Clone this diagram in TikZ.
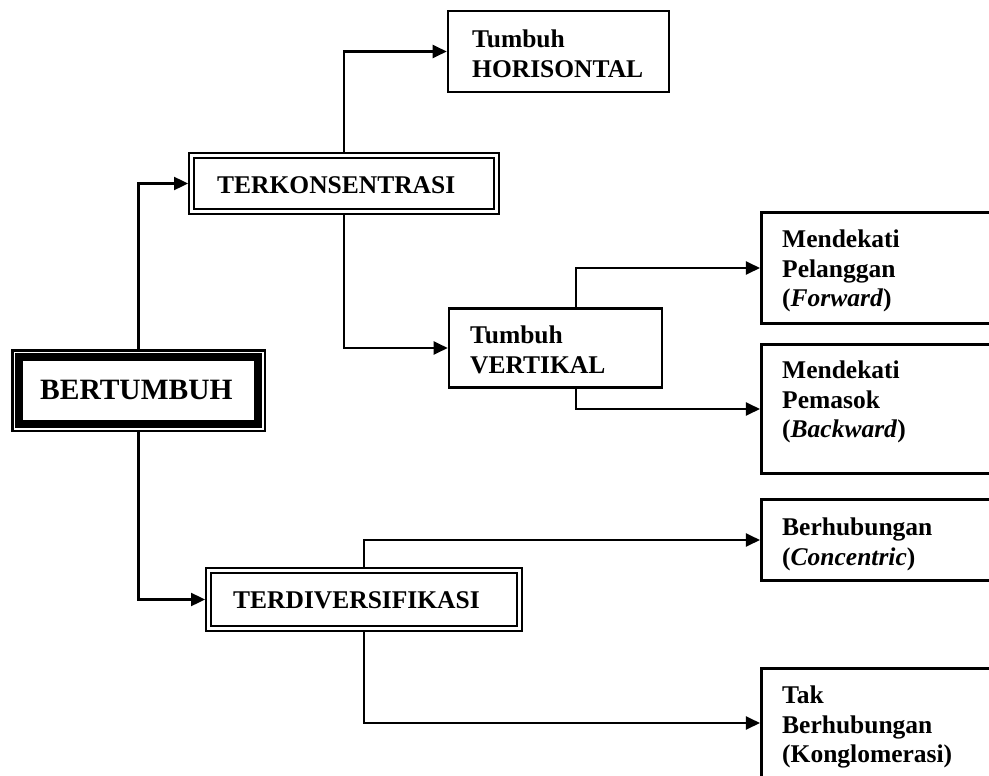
\documentclass[tikz,border=0pt]{standalone}
\usepackage{fontspec}
\setmainfont{Liberation Serif}
\usetikzlibrary{arrows.meta,calc}
\begin{document}
\begin{tikzpicture}[x=1pt,y=-1pt,
  box/.style={draw,line width=2.6pt,rectangle,inner sep=0pt},
  dbox/.style={draw,rectangle,line width=2pt,double,double distance=3pt,inner sep=0pt,outer sep=3.5pt},
  lbl/.style={inner sep=0pt,align=left,font=\fontsize{25.5}{29.5}\selectfont\bfseries},
  conn/.style={line width=2.4pt,-{Triangle[length=14pt,width=13pt]}}]
\clip (0,0) rectangle (989,776);
\fill[white] (0,0) rectangle (989,776);
% main box
\node[draw,line width=2.5pt,inner sep=0pt,minimum width=252.5pt,minimum height=80.5pt] (bert) at (138.5,390.5) {};
\draw[line width=7.5pt] ($(bert.north west)+(7.8,7.8)$) rectangle ($(bert.south east)+(-7.8,-7.8)$);
\node[lbl,anchor=base west,font=\fontsize{29.5}{34}\selectfont\bfseries] (bertT) at (40,399) {BERTUMBUH};
% double boxes
\node[dbox,minimum width=305pt,minimum height=56pt] (tk) at (344,183.5) {};
\node[lbl,anchor=base west] (tkT) at (217,193) {TERKONSENTRASI};
\node[dbox,minimum width=311pt,minimum height=58pt] (td) at (364,599.5) {};
\node[lbl,anchor=base west] (tdT) at (233,608) {TERDIVERSIFIKASI};
% plain boxes
\node[box,minimum width=221pt,minimum height=81pt] (hor) at (558.5,51.5) {};
\node[lbl,anchor=north west] (horT) at (472,29.7) {Tumbuh\\HORISONTAL};
\node[box,minimum width=213pt,minimum height=79.5pt] (ver) at (555.5,348) {};
\node[lbl,anchor=north west] (verT) at (470,325.7) {Tumbuh\\VERTIKAL};
\node[box,minimum width=238.7pt,minimum height=111.4pt] (pel) at (880.6,268) {};
\node[lbl,anchor=north west] (pelT) at (782,229.7) {Mendekati\\Pelanggan\\(\textit{Forward})};
\node[box,minimum width=238.7pt,minimum height=129.4pt] (pem) at (880.6,409) {};
\node[lbl,anchor=north west] (pemT) at (782,360.7) {Mendekati\\Pemasok\\(\textit{Backward})};
\node[box,minimum width=238.7pt,minimum height=81.4pt] (ber) at (880.6,540) {};
\node[lbl,anchor=north west] (berT) at (782,517.7) {Berhubungan\\(\textit{Concentric})};
\node[box,minimum width=238.7pt,minimum height=109.4pt] (tak) at (880.6,723) {};
\node[lbl,anchor=north west] (takT) at (782,685.7) {Tak\\Berhubungan\\(Konglomerasi)};
% connectors
\draw[conn] (bert.north) |- (tk.west);
\draw[conn] (bert.south) |- (td.west);
\draw[conn] (tk.north) |- (hor.west);
\draw[conn] (tk.south) |- (ver.west);
\draw[conn] ([xshift=20.5pt]ver.north) |- (pel.west);
\draw[conn] ([xshift=20.5pt]ver.south) |- (pem.west);
\draw[conn] (td.north) |- (ber.west);
\draw[conn] (td.south) |- (tak.west);
\end{tikzpicture}
\end{document}
